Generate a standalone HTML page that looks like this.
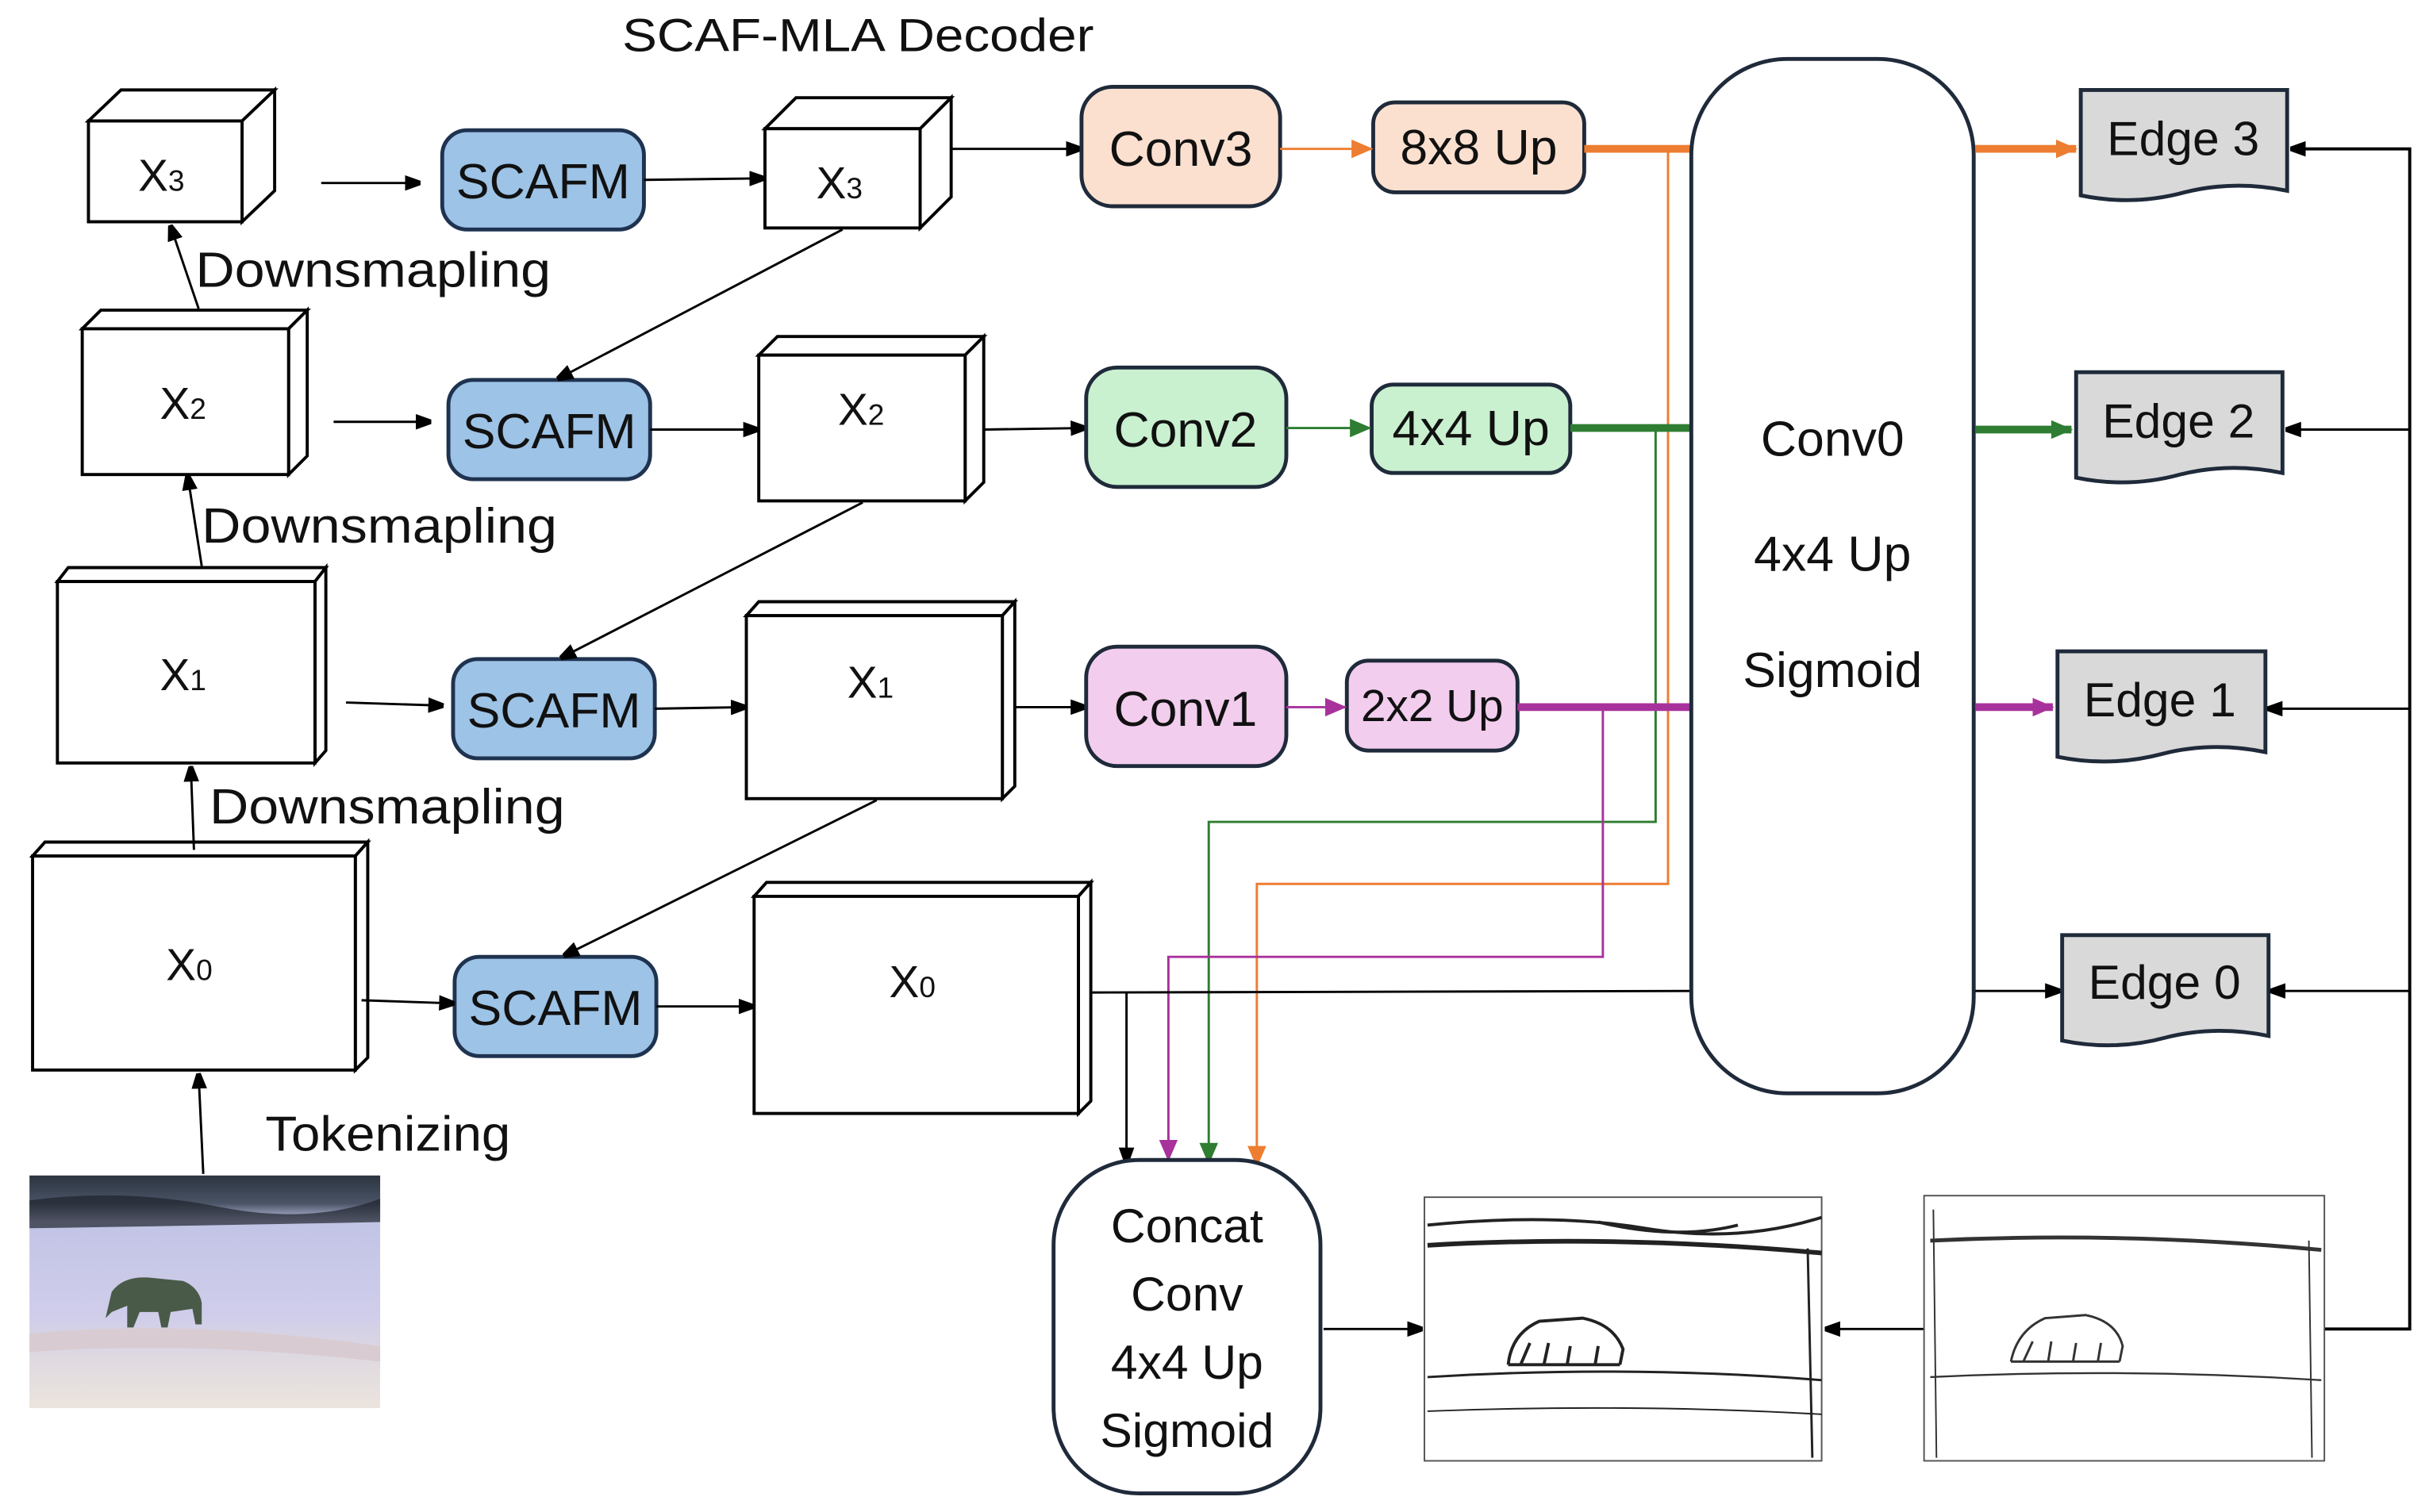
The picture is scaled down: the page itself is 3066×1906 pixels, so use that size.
<!DOCTYPE html>
<html><head><meta charset="utf-8"><style>
html,body{margin:0;padding:0;background:#fff;}
svg{display:block;}
text{font-family:"Liberation Sans","DejaVu Sans",sans-serif;fill:#111;}
</style></head><body>
<svg width="3066" height="1906" viewBox="0 0 1568 975" preserveAspectRatio="none" xmlns="http://www.w3.org/2000/svg">
<defs>
<marker id="ab" markerWidth="10" markerHeight="10" refX="9" refY="5" orient="auto" markerUnits="userSpaceOnUse"><path d="M0,0 L14,5 L0,10z" fill="#000"/></marker>
<marker id="ao" markerWidth="14" markerHeight="12" refX="13" refY="6" orient="auto" markerUnits="userSpaceOnUse"><path d="M0,0 L14,6 L0,12z" fill="#ED7D31"/></marker>
<marker id="ag" markerWidth="14" markerHeight="12" refX="13" refY="6" orient="auto" markerUnits="userSpaceOnUse"><path d="M0,0 L14,6 L0,12z" fill="#2E7D32"/></marker>
<marker id="ap" markerWidth="14" markerHeight="12" refX="13" refY="6" orient="auto" markerUnits="userSpaceOnUse"><path d="M0,0 L14,6 L0,12z" fill="#A8329C"/></marker>
<linearGradient id="snow" x1="0" y1="0" x2="0" y2="1">
<stop offset="0" stop-color="#2c3440"/><stop offset="0.12" stop-color="#4a5466"/><stop offset="0.2" stop-color="#c2c4e6"/><stop offset="0.6" stop-color="#cfcdea"/><stop offset="0.8" stop-color="#e0dae0"/><stop offset="1" stop-color="#ebe4de"/></linearGradient>
</defs>

<text x="401" y="33" font-size="30" textLength="304" lengthAdjust="spacingAndGlyphs">SCAF-MLA Decoder</text>

<g fill="#fff" stroke="#000" stroke-width="2">
<path d="M57,78 L78,58 L177,58 L156,78z"/><path d="M156,78 L177,58 L177,123 L156,143z"/><rect x="57" y="78" width="99" height="65"/>
<path d="M53,212 L65,200 L198,200 L186,212z"/><path d="M186,212 L198,200 L198,294 L186,306z"/><rect x="53" y="212" width="133" height="94"/>
<path d="M37,375 L44,366 L210,366 L203,375z"/><path d="M203,375 L210,366 L210,484 L203,492z"/><rect x="37" y="375" width="166" height="117"/>
<path d="M21,552 L29,543 L237,543 L229,552z"/><path d="M229,552 L237,543 L237,682 L229,690z"/><rect x="21" y="552" width="208" height="138"/>
<path d="M493,83 L513,63 L613,63 L593,83z"/><path d="M593,83 L613,63 L613,127 L593,147z"/><rect x="493" y="83" width="100" height="64"/>
<path d="M489,229 L501,217 L634,217 L622,229z"/><path d="M622,229 L634,217 L634,311 L622,323z"/><rect x="489" y="229" width="133" height="94"/>
<path d="M481,397 L489,388 L654,388 L646,397z"/><path d="M646,397 L654,388 L654,507 L646,515z"/><rect x="481" y="397" width="165" height="118"/>
<path d="M486,578 L494,569 L703,569 L695,578z"/><path d="M695,578 L703,569 L703,710 L695,718z"/><rect x="486" y="578" width="209" height="140"/>
</g>
<g font-size="29" text-anchor="middle">
<text x="104" y="123">X<tspan font-size="19">3</tspan></text>
<text x="118" y="270">X<tspan font-size="19">2</tspan></text>
<text x="118" y="445">X<tspan font-size="19">1</tspan></text>
<text x="122" y="632">X<tspan font-size="19">0</tspan></text>
<text x="541" y="128">X<tspan font-size="19">3</tspan></text>
<text x="555" y="274">X<tspan font-size="19">2</tspan></text>
<text x="561" y="450">X<tspan font-size="19">1</tspan></text>
<text x="588" y="643">X<tspan font-size="19">0</tspan></text>
</g>

<g fill="#9DC3E6" stroke="#1f3350" stroke-width="2.5">
<rect x="285" y="84" width="130" height="64" rx="16"/>
<rect x="289" y="245" width="130" height="64" rx="16"/>
<rect x="292" y="425" width="130" height="64" rx="16"/>
<rect x="293" y="617" width="130" height="64" rx="16"/>
</g>
<g font-size="32" text-anchor="middle">
<text x="350" y="128">SCAFM</text><text x="354" y="289">SCAFM</text><text x="357" y="469">SCAFM</text><text x="358" y="661">SCAFM</text>
</g>

<g stroke="#000" stroke-width="1.5" fill="none" marker-end="url(#ab)">
<line x1="207" y1="118" x2="270" y2="118"/>
<line x1="215" y1="272" x2="277" y2="272"/>
<line x1="223" y1="453" x2="285" y2="455"/>
<line x1="233" y1="645" x2="292" y2="647"/>
<line x1="415" y1="116" x2="492" y2="115"/>
<line x1="419" y1="277" x2="488" y2="277"/>
<line x1="422" y1="457" x2="480" y2="456"/>
<line x1="423" y1="649" x2="485" y2="649"/>
<line x1="543" y1="148" x2="360" y2="244"/>
<line x1="556" y1="324" x2="362" y2="424"/>
<line x1="565" y1="516" x2="364" y2="616"/>
<line x1="128" y1="199" x2="110" y2="146"/>
<line x1="130" y1="365" x2="121" y2="307"/>
<line x1="125" y1="548" x2="123" y2="495"/>
<line x1="131" y1="757" x2="128" y2="693"/>
<line x1="613" y1="96" x2="696" y2="96"/>
<line x1="634" y1="277" x2="699" y2="276"/>
<line x1="654" y1="456" x2="699" y2="456"/>
</g>
<g font-size="32">
<text x="126" y="185" textLength="229" lengthAdjust="spacingAndGlyphs">Downsmapling</text>
<text x="130" y="350" textLength="229" lengthAdjust="spacingAndGlyphs">Downsmapling</text>
<text x="135" y="531" textLength="229" lengthAdjust="spacingAndGlyphs">Downsmapling</text>
<text x="171" y="742" textLength="158" lengthAdjust="spacingAndGlyphs">Tokenizing</text>
</g>

<rect x="19" y="758" width="226" height="150" fill="url(#snow)"/>
<path d="M19,774 Q80,766 140,778 T245,773 L245,788 Q150,790 19,792z" fill="#1e242c" opacity="0.7"/>
<path d="M19,860 Q120,850 245,868 L245,878 Q120,864 19,872z" fill="#d8ccd2"/>
<path d="M72,833 Q80,822 98,824 L118,826 Q128,830 130,840 L130,854 L126,854 L124,844 L110,846 L108,856 L104,856 L102,846 L90,846 L86,856 L82,856 L82,842 L72,846 L68,850z" fill="#4a5a48"/>

<g stroke="#1f2a3a" stroke-width="2.5">
<rect x="697" y="56" width="128" height="77" rx="20" fill="#FBE0D0"/>
<rect x="885" y="66" width="136" height="58" rx="14" fill="#FBE0D0"/>
<rect x="700" y="237" width="129" height="77" rx="20" fill="#C9F0CF"/>
<rect x="884" y="248" width="128" height="57" rx="14" fill="#C9F0CF"/>
<rect x="700" y="417" width="129" height="77" rx="20" fill="#F2CDEE"/>
<rect x="868" y="426" width="110" height="58" rx="14" fill="#F2CDEE"/>
</g>
<g font-size="32" text-anchor="middle">
<text x="761" y="107">Conv3</text><text x="953" y="106">8x8 Up</text>
<text x="764" y="288">Conv2</text><text x="948" y="287">4x4 Up</text>
<text x="764" y="468">Conv1</text><text x="923" y="465" font-size="29">2x2 Up</text>
</g>
<line x1="825" y1="96" x2="884" y2="96" stroke="#ED7D31" stroke-width="1.5" marker-end="url(#ao)"/>
<line x1="829" y1="276" x2="883" y2="276" stroke="#2E7D32" stroke-width="1.5" marker-end="url(#ag)"/>
<line x1="829" y1="456" x2="867" y2="456" stroke="#A8329C" stroke-width="1.5" marker-end="url(#ap)"/>

<g fill="none" stroke-width="1.5">
<path d="M1075,96 L1075,570 L810,570 L810,752" stroke="#ED7D31" marker-end="url(#ao)"/>
<path d="M1067,276 L1067,530 L779,530 L779,750" stroke="#2E7D32" marker-end="url(#ag)"/>
<path d="M1033,456 L1033,617 L753,617 L753,748" stroke="#A8329C" marker-end="url(#ap)"/>
<path d="M704,640 L1090,639" stroke="#000"/>
<path d="M726,640 L726,749" stroke="#000" marker-end="url(#ab)"/>
</g>
<g stroke-width="5">
<line x1="1021" y1="96" x2="1090" y2="96" stroke="#ED7D31"/>
<line x1="1012" y1="276" x2="1090" y2="276" stroke="#2E7D32"/>
<line x1="978" y1="456" x2="1090" y2="456" stroke="#A8329C"/>
</g>

<rect x="1090" y="38" width="182" height="667" rx="62" fill="#fff" stroke="#1f2a3a" stroke-width="2.5"/>
<g font-size="32" text-anchor="middle">
<text x="1181" y="294">Conv0</text><text x="1181" y="368">4x4 Up</text><text x="1181" y="443">Sigmoid</text>
</g>

<g stroke-width="5">
<line x1="1273" y1="96" x2="1338" y2="96" stroke="#ED7D31" marker-end="url(#ao)"/>
<line x1="1273" y1="277" x2="1335" y2="277" stroke="#2E7D32" marker-end="url(#ag)"/>
<line x1="1273" y1="456" x2="1323" y2="456" stroke="#A8329C" marker-end="url(#ap)"/>
</g>
<line x1="1273" y1="639" x2="1327" y2="639" stroke="#000" stroke-width="1.5" marker-end="url(#ab)"/>
<g fill="#D9D9D9" stroke="#1f2a3a" stroke-width="2.5">
<path d="M1341,58 L1474,58 L1474,123 Q1440,116 1408,124 Q1375,133 1341,126z"/>
<path d="M1338,240 L1471,240 L1471,305 Q1437,298 1405,306 Q1372,315 1338,308z"/>
<path d="M1326,420 L1460,420 L1460,485 Q1426,478 1394,486 Q1360,495 1326,488z"/>
<path d="M1329,603 L1462,603 L1462,668 Q1428,661 1396,669 Q1363,678 1329,671z"/>
</g>
<g font-size="31" text-anchor="middle">
<text x="1407" y="100">Edge 3</text><text x="1404" y="282">Edge 2</text><text x="1392" y="462">Edge 1</text><text x="1395" y="644">Edge 0</text>
</g>
<g fill="none" stroke="#000" stroke-width="2">
<path d="M1498,857 L1553,857 L1553,96 L1477,96" marker-end="url(#ab)"/>
</g>
<g stroke="#000" stroke-width="1.5" marker-end="url(#ab)">
<line x1="1553" y1="277" x2="1474" y2="277"/>
<line x1="1553" y1="457" x2="1462" y2="457"/>
<line x1="1553" y1="639" x2="1464" y2="639"/>
<line x1="853" y1="857" x2="916" y2="857"/>
<line x1="1240" y1="857" x2="1177" y2="857"/>
</g>

<rect x="679" y="748" width="172" height="215" rx="55" fill="#fff" stroke="#1f2a3a" stroke-width="2.5"/>
<g font-size="31" text-anchor="middle">
<text x="765" y="801">Concat</text><text x="765" y="845">Conv</text><text x="765" y="889">4x4 Up</text><text x="765" y="933">Sigmoid</text>
</g>

<rect x="918" y="772" width="256" height="170" fill="#fff" stroke="#555" stroke-width="1"/>
<g fill="none" stroke="#222" stroke-width="2">
<path d="M920,790 Q1000,782 1060,792 T1174,785"/>
<path d="M920,803 Q1040,796 1174,808" stroke-width="3"/>
<path d="M1030,788 Q1080,800 1120,790"/>
<path d="M920,888 Q1050,880 1174,890" stroke-width="1.5"/>
<path d="M920,910 Q1050,905 1174,912" stroke-width="1"/>
<path d="M1165,805 L1168,940" stroke-width="1.5"/>
<path d="M972,880 Q974,860 992,852 L1020,850 Q1040,854 1046,870 L1044,880 M980,880 L986,866 M995,880 L998,866 M1010,880 L1012,868 M1028,880 L1030,868 M972,880 L1044,880"/>
</g>
<rect x="1240" y="771" width="258" height="171" fill="#fff" stroke="#555" stroke-width="1"/>
<g fill="none" stroke="#333" stroke-width="1.5">
<path d="M1244,800 Q1370,794 1496,806" stroke-width="2.5"/>
<path d="M1244,888 Q1370,882 1496,890" stroke-width="1.2"/>
<path d="M1246,780 L1248,940" stroke-width="1"/>
<path d="M1488,800 L1490,940" stroke-width="1"/>
<path d="M1296,878 Q1300,858 1318,850 L1344,848 Q1364,852 1368,868 L1366,878 M1304,878 L1310,865 M1320,878 L1322,865 M1336,878 L1338,866 M1352,878 L1354,866 M1296,878 L1366,878"/>
</g>
</svg>
</body></html>
